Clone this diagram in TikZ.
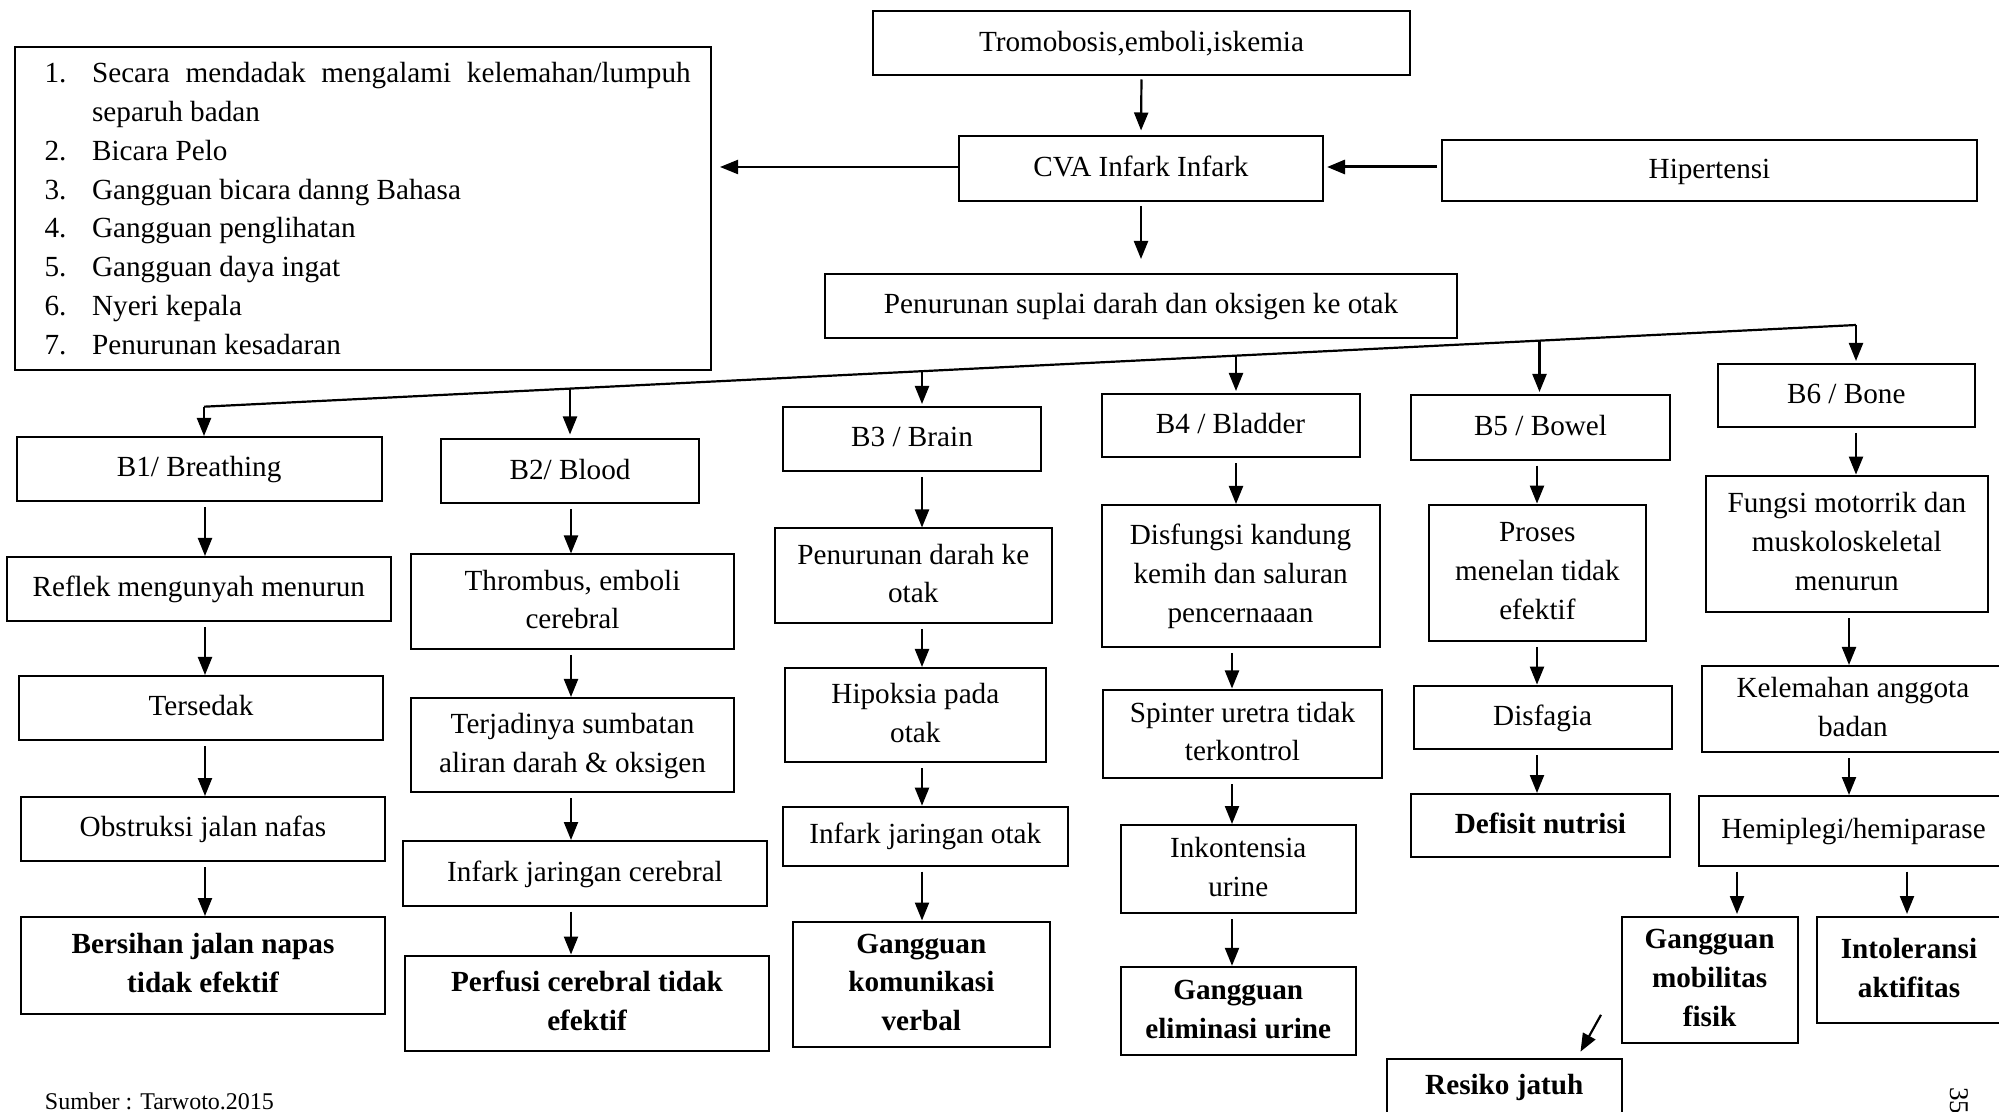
\documentclass[tikz,border=0pt]{standalone}
\usepackage{fontspec}
\setmainfont{Liberation Serif}
\usetikzlibrary{arrows.meta}
\newcommand\mainfs{\fontsize{14.6}{19.4}\selectfont}
\newcommand\tl[1]{\begin{tabular}{@{}c@{}}#1\end{tabular}}
\begin{document}
\begin{tikzpicture}[x=0.5pt,y=-0.5pt,
  box/.style={draw,line width=1pt,inner sep=0pt,font=\mainfs},
  bbox/.style={box,font=\mainfs\bfseries},
  cbox/.style args={#1,#2,#3,#4}{at={({(#1+#3)/2},{(#2+#4)/2})},
     minimum width={(#3-#1)*0.5pt},minimum height={(#4-#2)*0.5pt}},
  arr/.style={-{Triangle[length=9pt,width=7pt]},line width=1.1pt},
  carr/.style={arr,shorten <=2.5pt}]
\fill[white] (0,0) rectangle (1999,1112);
\useasboundingbox (0,0) rectangle (1999,1112);

% top
\node[box,cbox={873,11.5,1410,75.5}] (T) {\tl{Tromobosis,emboli,iskemia}};
\node[box,cbox={959,136.5,1323,201}] (CVA) {\tl{CVA Infark Infark}};
\node[box,cbox={1442,140,1977,201}] (Hip) {\tl{Hipertensi}};
\node[box,cbox={825,274,1457,338}] (P) {\tl{Penurunan suplai darah dan oksigen ke otak}};
\node[draw,line width=1pt,inner sep=0pt,minimum width=348pt,minimum height=161.5pt,
      text width=348pt,align=justify,font=\mainfs] (L) at (363,208.5)
{\leftskip=14.8pt\rightskip=10.15pt\hyphenpenalty=10000
\hangindent=23.75pt\hangafter=1\noindent\makebox[23.75pt][l]{1.}Secara mendadak mengalami kelemahan/lumpuh\linebreak separuh badan\par
\hangindent=23.75pt\hangafter=1\noindent\makebox[23.75pt][l]{2.}Bicara Pelo\par
\hangindent=23.75pt\hangafter=1\noindent\makebox[23.75pt][l]{3.}Gangguan bicara danng Bahasa\par
\hangindent=23.75pt\hangafter=1\noindent\makebox[23.75pt][l]{4.}Gangguan penglihatan\par
\hangindent=23.75pt\hangafter=1\noindent\makebox[23.75pt][l]{5.}Gangguan daya ingat\par
\hangindent=23.75pt\hangafter=1\noindent\makebox[23.75pt][l]{6.}Nyeri kepala\par
\hangindent=23.75pt\hangafter=1\noindent\makebox[23.75pt][l]{7.}Penurunan kesadaran\par};

% B row
\node[box,cbox={16.7,437,381.5,501}] (B1) {\tl{B1/ Breathing}};
\node[box,cbox={441,439.5,699,503}] (B2) {\tl{B2/ Blood}};
\node[box,cbox={783,407,1041,471}] (B3) {\tl{B3 / Brain}};
\node[box,cbox={1101.5,394,1359.6,457.5}] (B4) {\tl{B4 / Bladder}};
\node[box,cbox={1411,395,1670,459.7}] (B5) {\tl{B5 / Bowel}};
\node[box,cbox={1717.5,364,1975,427}] (B6) {\tl{B6 / Bone}};

% column 1
\node[box,cbox={6.6,557,391,621}] (a1) {\tl{Reflek mengunyah menurun}};
\node[box,cbox={19,676,383,740}] (a2) {\tl{Tersedak}};
\node[box,cbox={21,797,385,861}] (a3) {\tl{Obstruksi jalan nafas}};
\node[bbox,cbox={21,917,385,1013.6}] (a4) {\tl{Bersihan jalan napas\\tidak efektif}};
% column 2
\node[box,cbox={411,554.5,734,649}] (b1) {\tl{Thrombus, emboli\\cerebral}};
\node[box,cbox={411,698,734,792}] (b2) {\tl{Terjadinya sumbatan\\aliran darah \& oksigen}};
\node[box,cbox={403,841,767,905.5}] (b3) {\tl{Infark jaringan cerebral}};
\node[bbox,cbox={405,955.5,769,1051}] (b4) {\tl{Perfusi cerebral tidak\\efektif}};
% column 3
\node[box,cbox={775,528.5,1051.5,622.8}] (c1) {\tl{Penurunan darah ke\\otak}};
\node[box,cbox={785,668,1045.7,762}] (c2) {\tl{Hipoksia pada\\otak}};
\node[box,cbox={783,806.7,1067.6,865.5}] (c3) {\tl{Infark jaringan otak}};
\node[bbox,cbox={793,921.5,1049.7,1046.7}] (c4) {\tl{Gangguan\\komunikasi\\verbal}};
% column 4
\node[box,cbox={1101.5,505,1379.6,647}] (d1) {\tl{Disfungsi kandung\\kemih dan saluran\\pencernaaan}};
\node[box,cbox={1103,689.5,1382,778}] (d2) {\tl{Spinter uretra tidak\\terkontrol}};
\node[box,cbox={1121,825,1355.5,913}] (d3) {\tl{Inkontensia\\urine}};
\node[bbox,cbox={1121,966.8,1355.5,1055}] (d4) {\tl{Gangguan\\eliminasi urine}};
% column 5
\node[box,cbox={1429,504.6,1645.7,641}] (e1) {\tl{Proses\\menelan tidak\\efektif}};
\node[box,cbox={1413.6,685.6,1671.7,749}] (e2) {\tl{Disfagia}};
\node[bbox,cbox={1411,794,1669.8,857}] (e3) {\tl{Defisit nutrisi}};
% column 6
\node[box,cbox={1705.7,475.6,1988,612.3}] (f1) {\tl{Fungsi motorrik dan\\muskoloskeletal\\menurun}};
\node[box,cbox={1701.7,666,2004,752}] (f2) {\tl{Kelemahan anggota\\badan}};
\node[box,cbox={1699,796,2008,865.7}] (f3) {\tl{Hemiplegi/hemiparase}};
\node[bbox,cbox={1621.6,917,1797.7,1043}] (f4) {\tl{Gangguan\\mobilitas\\fisik}};
\node[bbox,cbox={1817,917,2001,1023}] (f5) {\tl{Intoleransi\\aktifitas}};
\node[bbox,cbox={1387,1059,1621.6,1115}] (f6) {\tl{Resiko jatuh}};

% texts
\node[anchor=base west,inner sep=0pt,font=\fontsize{12}{14}\selectfont] (src) at (44.6,1109) {Sumber : Tarwoto.2015};
\node[rotate=-90,anchor=base west,inner sep=0pt,font=\fontsize{13.5}{16}\selectfont] (pg) at (1950,1087) {35};

% top connectors
\coordinate (hy) at (0,167);
\draw[arr,shorten <=1.5pt,shorten >=2.5pt] (T.south) -- (CVA.north);
\draw[arr,shorten <=2pt,shorten >=7pt] (CVA.south) -- (P.north);
\draw[arr,line width=1.5pt,shorten <=2pt,shorten >=1.5pt] (Hip.west |- hy) -- (CVA.east |- hy);
\draw[arr,shorten >=4pt] (CVA.west |- hy) -- (L.east |- hy);

% distribution line
\coordinate (dl) at (204,406.7);
\coordinate (dr) at (1856,325);
\coordinate (t2) at (570,388.6);
\coordinate (t3) at (922,371.2);
\coordinate (t4) at (1236,355.7);
\coordinate (t5) at (1539.5,340.7);
\draw[line width=1.1pt] (dl) -- (dr);
\draw[arr] (dl) -- (dl |- B1.north);
\draw[arr,shorten >=2pt] (t2) -- (t2 |- B2.north);
\draw[arr,shorten >=1pt] (t3) -- (t3 |- B3.north);
\draw[arr,shorten >=1pt] (t4) -- (t4 |- B4.north);
\draw[arr,shorten >=1pt] (t5) -- (t5 |- B5.north);
\draw[arr,shorten >=1pt] (dr) -- (dr |- B6.north);

% column connectors
\coordinate (x1) at (205,0);
\coordinate (x2) at (571,0);
\coordinate (x3) at (922,0);
\coordinate (x4a) at (1236,0);
\coordinate (x4) at (1232,0);
\coordinate (x5) at (1537,0);
\coordinate (x6a) at (1856,0);
\coordinate (x6) at (1849,0);
\coordinate (x7) at (1737,0);
\coordinate (x8) at (1907,0);
\draw[carr] (B1.south -| x1) -- (a1.north -| x1);
\draw[carr] (a1.south -| x1) -- (a2.north -| x1);
\draw[carr] (a2.south -| x1) -- (a3.north -| x1);
\draw[carr] (a3.south -| x1) -- (a4.north -| x1);
\draw[carr] (B2.south -| x2) -- (b1.north -| x2);
\draw[carr] (b1.south -| x2) -- (b2.north -| x2);
\draw[carr] (b2.south -| x2) -- (b3.north -| x2);
\draw[carr] (b3.south -| x2) -- (b4.north -| x2);
\draw[carr] (B3.south -| x3) -- (c1.north -| x3);
\draw[carr] (c1.south -| x3) -- (c2.north -| x3);
\draw[carr] (c2.south -| x3) -- (c3.north -| x3);
\draw[carr] (c3.south -| x3) -- (c4.north -| x3);
\draw[carr] (B4.south -| x4a) -- (d1.north -| x4a);
\draw[carr] (d1.south -| x4) -- (d2.north -| x4);
\draw[carr] (d2.south -| x4) -- (d3.north -| x4);
\draw[carr] (d3.south -| x4) -- (d4.north -| x4);
\draw[carr] (B5.south -| x5) -- (e1.north -| x5);
\draw[carr] (e1.south -| x5) -- (e2.north -| x5);
\draw[carr] (e2.south -| x5) -- (e3.north -| x5);
\draw[carr] (B6.south -| x6a) -- (f1.north -| x6a);
\draw[carr] (f1.south -| x6) -- (f2.north -| x6);
\draw[carr] (f2.south -| x6) -- (f3.north -| x6);
\draw[carr,shorten >=1pt] (f3.south -| x7) -- (f4.north -| x7);
\draw[carr,shorten >=1pt] (f3.south -| x8) -- (f5.north -| x8);
\coordinate (r1) at (1601,1014.8);
\coordinate (r2) at (1580.5,1051.7);
\draw[arr] (r1) -- (r2);
\end{tikzpicture}
\end{document}
